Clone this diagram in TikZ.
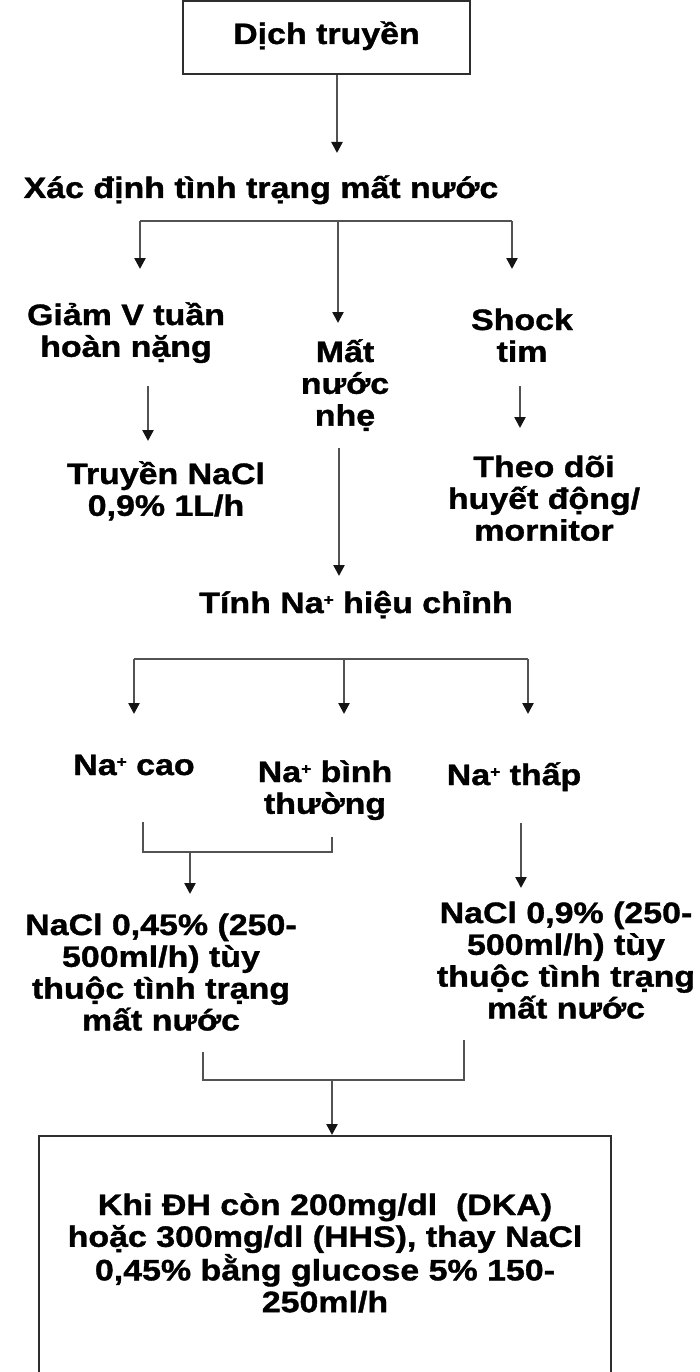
\documentclass[tikz,border=0pt]{standalone}
\usepackage{fontspec}
\setmainfont{Liberation Sans}[FakeStretch=1.15, BoldFeatures={FakeBold=1.2}]
\usetikzlibrary{arrows.meta}
\newcommand{\mlines}[1]{\vtop{\halign{\hfil##\hfil\cr #1\crcr}}}
\newcommand{\sps}{\raisebox{8pt}{\fontsize{15}{15}\selectfont +}}
\begin{document}
\begin{tikzpicture}[x=1pt,y=-1pt,
  txt/.style={font=\bfseries\fontsize{29.5}{31.8}\selectfont, inner sep=0pt, anchor=base},
  ln/.style={line width=2.4pt, draw=black!68},
  arr/.style={ln, -{Triangle[length=11pt,width=11pt,color=black!92]}},
  boxd/.style={draw=black!82, line width=2pt, inner sep=0pt}]
\useasboundingbox (0,0) rectangle (700,1372);
\clip (0,0) rectangle (700,1372);
% nodes
\node[boxd, minimum width=287pt, minimum height=73pt, text height=22pt, text depth=9pt,
      font=\bfseries\fontsize{29.5}{31.8}\selectfont] (top) at (326.5,37.5) {Dịch truyền};
\node[txt] (xac) at (261,198) {Xác định tình trạng mất nước};
\node[txt] (giam) at (126,325) {\mlines{Giảm V tuần\cr hoàn nặng}};
\node[txt] (mat) at (345,362) {\mlines{Mất\cr nước\cr nhẹ}};
\node[txt] (shock) at (522,330) {\mlines{Shock\cr tim}};
\node[txt] (truyen) at (166,484) {\mlines{Truyền NaCl\cr 0,9\% 1L/h}};
\node[txt] (theo) at (544,477) {\mlines{Theo dõi\cr huyết động/\cr mornitor}};
\node[txt] (tinh) at (356,613) {Tính Na\sps\ hiệu chỉnh};
\node[txt] (cao) at (134,775) {Na\sps\ cao};
\node[txt] (binh) at (325,782) {\mlines{Na\sps\ bình\cr thường}};
\node[txt] (thap) at (514,785) {Na\sps\ thấp};
\node[txt] (nacl45) at (161,935) {\mlines{NaCl 0,45\% (250-\cr 500ml/h) tùy\cr thuộc tình trạng\cr mất nước}};
\node[txt] (nacl9) at (566,923) {\mlines{NaCl 0,9\% (250-\cr 500ml/h) tùy\cr thuộc tình trạng\cr mất nước}};
\node[boxd, minimum width=572pt, minimum height=280pt, anchor=north] (bot) at (325,1135) {};
\node[txt] (khi) at (325,1215) {\mlines{Khi ĐH còn 200mg/dl\ \ (DKA)\cr hoặc 300mg/dl (HHS), thay NaCl\cr 0,45\% bằng glucose 5\% 150-\cr 250ml/h}};
% coordinates
\coordinate (a1) at (337,153);
\coordinate (b1l) at (140,221); \coordinate (b1m) at (338,221); \coordinate (b1r) at (512,221);
\coordinate (e1l) at (140,269); \coordinate (e1m) at (338,323); \coordinate (e1r) at (512,269);
\coordinate (s2l) at (148,386); \coordinate (e2l) at (148,441);
\coordinate (s2r) at (520,386); \coordinate (e2r) at (520,428);
\coordinate (s2m) at (339,448); \coordinate (e2m) at (339,576);
\coordinate (b2l) at (134,659); \coordinate (b2m) at (344,659); \coordinate (b2r) at (528,659);
\coordinate (e3l) at (134,714); \coordinate (e3m) at (344,714); \coordinate (e3r) at (528,714);
\coordinate (c3a) at (143,822); \coordinate (c3b) at (143,852); \coordinate (c3c) at (332,852); \coordinate (c3d) at (332,837);
\coordinate (c3s) at (190,852); \coordinate (c3e) at (190,894);
\coordinate (s4r) at (521,823); \coordinate (e4r) at (521,888);
\coordinate (c5a) at (203,1052); \coordinate (c5b) at (203,1080); \coordinate (c5c) at (464,1080); \coordinate (c5d) at (464,1040);
\coordinate (c5s) at (332,1080);
% connectors
\draw[arr] (top.south -| a1) -- (a1);
\draw[ln] (b1l) -- (b1r);
\draw[arr] (b1l) -- (e1l);
\draw[arr] (b1m) -- (e1m);
\draw[arr] (b1r) -- (e1r);
\draw[arr] (s2l) -- (e2l);
\draw[arr] (s2r) -- (e2r);
\draw[arr] (s2m) -- (e2m);
\draw[ln] (b2l) -- (b2r);
\draw[arr] (b2l) -- (e3l);
\draw[arr] (b2m) -- (e3m);
\draw[arr] (b2r) -- (e3r);
\draw[ln] (c3a) -- (c3b) -- (c3c) -- (c3d);
\draw[arr] (c3s) -- (c3e);
\draw[arr] (s4r) -- (e4r);
\draw[ln] (c5a) -- (c5b) -- (c5c) -- (c5d);
\draw[arr] (c5s) -- (bot.north -| c5s);
\end{tikzpicture}
\end{document}
